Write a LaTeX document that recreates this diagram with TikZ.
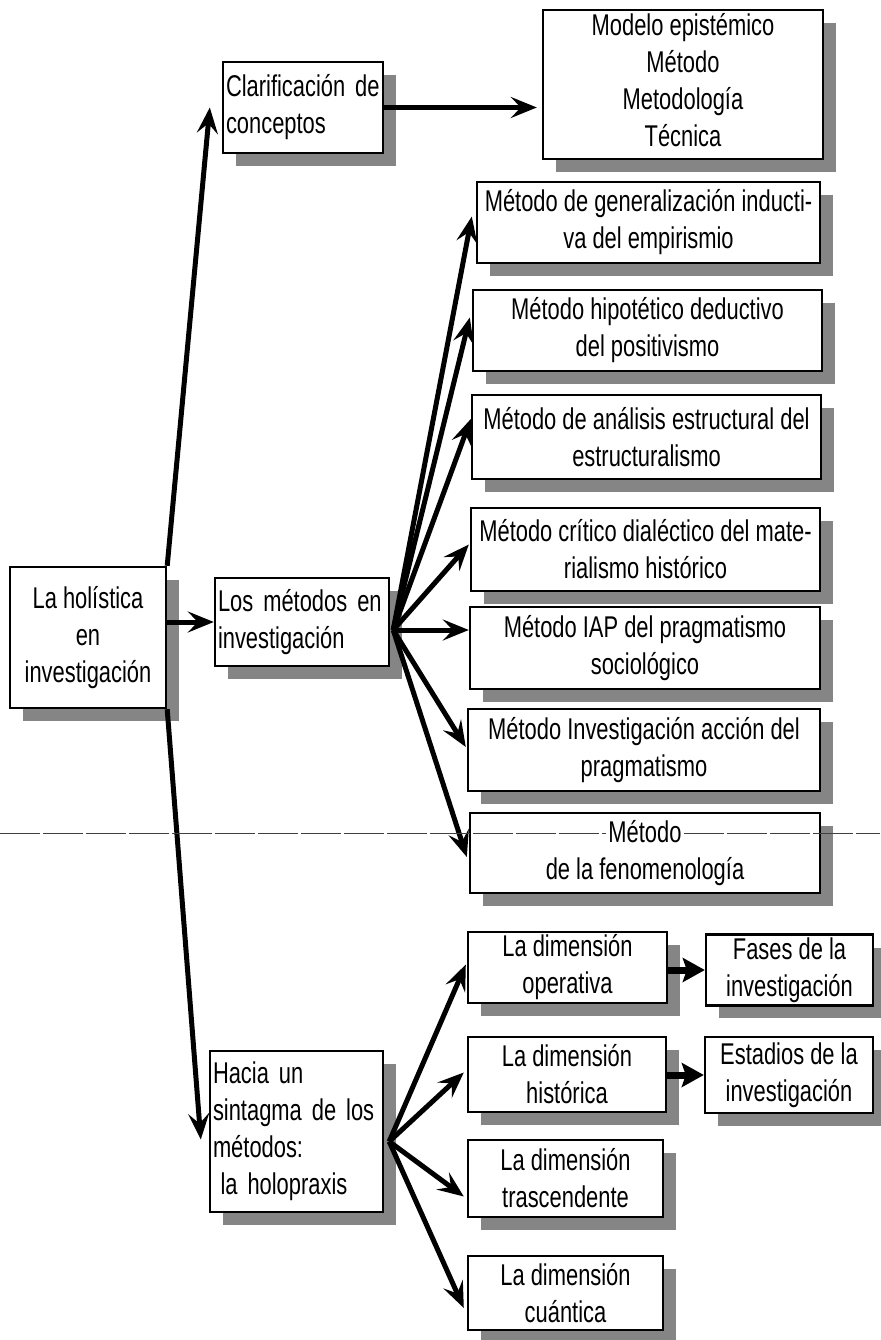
\documentclass[tikz,border=0pt]{standalone}
\usepackage{fontspec}
\setmainfont{Liberation Sans}[FakeStretch=0.73]
\usetikzlibrary{arrows.meta,calc,shadows}
\begin{document}
\begin{tikzpicture}[x=1pt,y=-1pt,
  txt/.style={font=\fontsize{30}{37}\selectfont, align=center},
  box/.style={txt, draw=black, line width=2.4pt, fill=white, inner sep=3pt,
    general shadow={fill=black!48, shadow xshift=13pt, shadow yshift=-13pt}},
  lbox/.style={box, align=left},
  conn/.style={line width=5pt, -{Stealth[length=26pt,width=21pt,inset=10pt]}},
  sconn/.style={line width=7pt, -{Stealth[length=22pt,width=24pt,inset=4pt]}},
  artefact/.style={black!75, line width=1pt, dash pattern=on 40pt off 3pt},
]
\useasboundingbox (0,0) rectangle (880,1340);

% left column
\node[box, minimum width=156pt, minimum height=141pt] (hol) at (88,637.5) {La holística\\en\\investigación};
\node[lbox, minimum width=160pt, minimum height=91pt, text width=154pt] (clar) at (303,107.5) {\mbox{Clarificación de}\\conceptos};
\node[lbox, minimum width=174pt, minimum height=88pt, text width=168pt] (met) at (302,622) {\mbox{Los métodos en}\\investigación};
\node[lbox, minimum width=173pt, minimum height=161pt, text width=167pt] (hacia) at (296.5,1131.5) {Hacia un\\\mbox{sintagma de los}\\métodos:\\\hspace{0.25em}la holopraxis};

% top right (text sits a little above the middle of the box)
\node[box, minimum width=280pt, minimum height=149pt,
  label={[txt, yshift=4pt]center:Modelo epistémico\\Método\\Metodología\\Técnica}] (modelo) at (683,84.5) {};

% methods
\node[box, minimum width=343pt, minimum height=81pt] (gen) at (648.5,222.5) {Método de generalización inducti-\\va del empirismio};
\node[box, minimum width=349pt, minimum height=81pt] (hipo) at (647.5,330.5) {Método hipotético deductivo\\del positivismo};
\node[box, minimum width=349pt, minimum height=84pt] (anal) at (646.5,437) {Método de análisis estructural del\\estructuralismo};
\node[box, minimum width=349pt, minimum height=83pt] (crit) at (645.5,549.5) {Método crítico dialéctico del mate-\\rialismo histórico};
\node[box, minimum width=350pt, minimum height=82pt] (iap) at (645,648) {Método IAP del pragmatismo\\sociológico};
\node[box, minimum width=352pt, minimum height=82pt] (inva) at (644,750) {Método Investigación acción del\\pragmatismo};
\node[box, minimum width=350pt, minimum height=80pt] (fen) at (645,853) {Método\\de la fenomenología};

% dimensions
\node[box, minimum width=199pt, minimum height=71pt] (oper) at (567.5,967.5) {La dimensión\\operativa};
\node[box, minimum width=198pt, minimum height=75pt] (hist) at (567,1074.5) {La dimensión\\histórica};
\node[box, minimum width=195pt, minimum height=77pt] (trasc) at (565.5,1178.5) {La dimensión\\trascendente};
\node[box, minimum width=195pt, minimum height=74pt] (cuan) at (565.5,1293) {La dimensión\\cuántica};
\node[box, minimum width=167pt, minimum height=70pt] (fases) at (789.5,970) {Fases de la\\investigación};
\node[box, minimum width=168pt, minimum height=76pt] (estad) at (789,1075) {Estadios de la\\investigación};

% connectors from the root
\draw[conn] (hol.north east) -- ($(clar.west)+(-12,0)$);
\draw[conn] (hol.south east) -- ($(hacia.west)+(-8,8)$);
\draw[conn] (hol.east |- met.west) -- (met.west);
\draw[conn] (clar.east) -- ($(modelo.west |- clar.east)+(-5,0)$);

% fan from "Los métodos"
\coordinate (mfan) at ($(met.east)+(3,8)$);
\draw[conn] (mfan) -- ($(gen.west)+(-4,-6)$);
\draw[conn] (mfan) -- ($(hipo.west)+(-2,-13)$);
\draw[conn] (mfan) -- ($(anal.west)+(0,-18)$);
\draw[conn] (mfan) -- ($(crit.west)+(-1,-5)$);
\draw[conn] (mfan) -- (mfan -| iap.west);
\draw[conn] (mfan) -- ($(inva.west)+(-1,-3)$);
\draw[conn] (mfan) -- ($(fen.west)+(-2,4)$);

% fan from "Hacia un sintagma"
\coordinate (hfan) at ($(hacia.east)+(5,10)$);
\draw[conn] (hfan) -- ($(oper.west)+(-1,-3)$);
\draw[conn] (hfan) -- ($(hist.west)+(-3,-2)$);
\draw[conn] (hfan) -- ($(trasc.west)+(-3,18)$);
\draw[conn] (hfan) -- ($(cuan.west)+(-3,15)$);

% dimension -> stage
\draw[sconn] (oper.east |- fases.west) -- (fases.west);
\draw[sconn] (hist.east |- estad.west) -- (estad.west);

% scanner guide line
\draw[artefact] (0,833) -- (606,833);
\draw[artefact] (684,833) -- (880,833);
\end{tikzpicture}
\end{document}
